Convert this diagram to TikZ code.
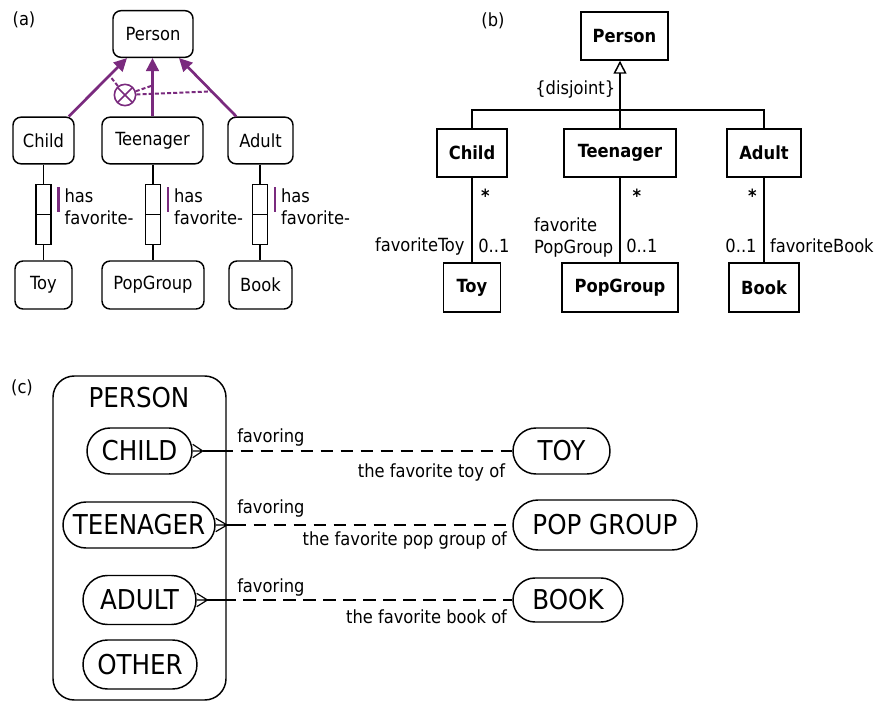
\documentclass[tikz,border=0pt]{standalone}
\usepackage{fontspec}
\setmainfont{DejaVu Sans Condensed}
\usetikzlibrary{arrows.meta,positioning,calc,shapes.misc}
\definecolor{plum}{HTML}{7A2A7E}
\newcommand{\mfont}{\fontsize{13.6}{16.5}\selectfont}
\newcommand{\bfont}{\fontsize{20.5}{24}\selectfont}
\tikzset{
  orm/.style={draw,rounded corners=6pt,line width=1.1pt,minimum height=35pt,inner sep=0pt,font=\mfont},
  role/.style={draw,line width=1.1pt,minimum width=11.25pt,minimum height=22.5pt,inner sep=0pt,outer sep=0pt},
  rbar/.style={plum,line width=1.6pt},
  subarr/.style={-{Triangle[length=9.75pt,width=9.5pt]},line width=2pt,color=plum},
  excl/.style={circle,draw=plum,line width=1.2pt,minimum size=16pt,inner sep=0pt,
    path picture={\draw[plum,line width=1.2pt] (path picture bounding box.north west) -- (path picture bounding box.south east)
      (path picture bounding box.north east) -- (path picture bounding box.south west);}},
  xdash/.style={plum,line width=1.5pt,dash pattern=on 3pt off 1.6pt},
  uml/.style={draw,line width=1.1pt,minimum height=36pt,inner sep=0pt,font=\mfont\bfseries},
  umlline/.style={line width=1.1pt},
  genl/.style={umlline,-{Triangle[open,length=9.75pt,width=9.75pt]}},
  mult/.style={inner sep=0pt,font=\mfont},
  lbl/.style={inner sep=0pt,font=\mfont,align=left},
  ent/.style={rounded rectangle,draw,line width=1.1pt,inner sep=0pt,font=\bfont},
  prong/.style={line width=0.9pt},
  rel/.style={line width=2pt},
  reldash/.style={rel,dash pattern=on 9.5pt off 5.5pt},
}
\begin{document}
\begin{tikzpicture}[x=0.75pt,y=-0.75pt]
\useasboundingbox (0,0) rectangle (874,702);
% (a) ORM schema
\node[lbl] (la) at (24,20) {(a)};
\node[orm,minimum width=60pt] (aperson) at (153,34) {Person};
\node[orm,minimum width=45.75pt] (achild) at (43.5,140.5) {Child};
\node[orm,minimum width=75.75pt] (ateen) at (152.5,140.5) {Teenager};
\node[orm,minimum width=48.75pt] (aadult) at (260.5,140.5) {Adult};
\node[orm,minimum width=42.75pt,minimum height=36pt] (atoy) at (43.5,285) {Toy};
\node[orm,minimum width=76.5pt,minimum height=36pt] (apop) at (153,285) {PopGroup};
\node[orm,minimum width=47.25pt,minimum height=36pt] (abook) at (260.5,285) {Book};
\draw[subarr] ([xshift=-4.5pt]achild.north east) -- coordinate[pos=0.7] (ca) ([xshift=-19.5pt]aperson.south);
\draw[subarr] (ateen.north) -- coordinate[pos=0.53] (ct) (ateen.north |- aperson.south);
\draw[subarr] ([xshift=6.75pt]aadult.north west) -- coordinate[pos=0.43] (cd) ([xshift=19.5pt]aperson.south);
\node[excl] (xor) at (125,95) {};
\draw[xdash] (xor) -- (ca);
\draw[xdash] (xor) -- (ct);
\draw[xdash] (xor) -- (cd);
% fact types
\node[role] (r1a) at (43.5,199.5) {};
\node[role,below=0pt of r1a] (r1b) {};
\node[role] (r2a) at (153,199.5) {};
\node[role,below=0pt of r2a] (r2b) {};
\node[role] (r3a) at (260,199.5) {};
\node[role,below=0pt of r3a] (r3b) {};
\draw[umlline] (achild) -- (r1a); \draw[umlline] (r1b) -- (atoy);
\draw[umlline] (ateen.south -| r2a) -- (r2a); \draw[umlline] (r2b) -- (r2b |- apop.north);
\draw[umlline] (aadult.south -| r3a) -- (r3a); \draw[umlline] (r3b) -- (r3b |- abook.north);
\draw[rbar] ([xshift=5.6pt,yshift=-2pt]r1a.north east) -- ([xshift=5.6pt,yshift=2pt]r1a.south east);
\draw[rbar] ([xshift=5.6pt,yshift=-2pt]r2a.north east) -- ([xshift=5.6pt,yshift=2pt]r2a.south east);
\draw[rbar] ([xshift=5.6pt,yshift=-2pt]r3a.north east) -- ([xshift=5.6pt,yshift=2pt]r3a.south east);
\node[lbl,anchor=west] (h1) at ([xshift=10pt,yshift=-5.6pt]r1a.east) {has\\favorite-};
\node[lbl,anchor=west] (h2) at ([xshift=10pt,yshift=-5.6pt]r2a.east) {has\\favorite-};
\node[lbl,anchor=west] (h3) at ([xshift=10pt,yshift=-5.6pt]r3a.east) {has\\favorite-};
% (b) UML class diagram
\node[lbl] (lb) at (493,21) {(b)};
\node[uml,minimum width=65.25pt] (bperson) at (624.5,36) {Person};
\node[uml,minimum width=52.5pt] (bchild) at (472,153) {Child};
\node[uml,minimum width=84pt] (bteen) at (620,153) {Teenager};
\node[uml,minimum width=55.5pt] (badult) at (764,153) {Adult};
\node[uml,minimum width=42.75pt,minimum height=36.75pt] (btoy) at (472,287.5) {Toy};
\node[uml,minimum width=87pt,minimum height=36.75pt] (bpop) at (620,287.5) {PopGroup};
\node[uml,minimum width=52.5pt,minimum height=36.75pt] (bbook) at (764,287.5) {Book};
\coordinate (bbar) at (620,110);
\draw[umlline] (bchild.north) |- (bbar) -| (badult.north);
\draw[genl] (bteen.north) -- node[mult,pos=0.58,left=3pt] (disj) {\{disjoint\}} (bteen.north |- bperson.south);
\draw[umlline] (bchild) -- node[mult,pos=0.21,right=6.2pt] (m1) {\textbf{*}}
  node[mult,pos=0.81,right=4.2pt] (n1) {0..1}
  node[mult,pos=0.81,left=5pt] (rn1) {favoriteToy} (btoy);
\draw[umlline] (bteen) -- node[mult,pos=0.21,right=9pt] (m2) {\textbf{*}}
  node[mult,pos=0.81,right=4.2pt] (n2) {0..1}
  node[lbl,pos=0.71,left=4.5pt] (rn2) {favorite\\PopGroup} (bpop);
\draw[umlline] (badult) -- node[mult,pos=0.21,left=5pt] (m3) {\textbf{*}}
  node[mult,pos=0.81,left=5pt] (n3) {0..1}
  node[mult,pos=0.81,right=4pt] (rn3) {favoriteBook} (bbook);
% (c) ER diagram
\node[lbl] (lc) at (22,388) {(c)};
\node[draw,line width=1.1pt,rounded corners=16pt,minimum width=129.75pt,minimum height=243pt] (cperson) at (139.5,538) {};
\node[inner sep=0pt,font=\bfont] (cpname) at (139,398) {PERSON};
\node[ent,minimum width=78.75pt,minimum height=34.5pt] (cchild) at (139.5,451) {CHILD};
\node[ent,minimum width=114pt,minimum height=34.5pt] (cteen) at (139,525) {TEENAGER};
\node[ent,minimum width=84.75pt,minimum height=36.75pt] (cadult) at (139.5,600) {ADULT};
\node[ent,minimum width=85.5pt,minimum height=36.75pt] (cother) at (140,664.5) {OTHER};
\node[ent,minimum width=72.75pt,minimum height=34.5pt] (ctoy) at (561.5,451) {TOY};
\node[ent,minimum width=138pt,minimum height=37.5pt] (cpop) at (605,525) {POP GROUP};
\node[ent,minimum width=82.5pt,minimum height=33pt] (cbook) at (568,600) {BOOK};
% child -- toy
\coordinate (cf1) at ([xshift=7.5pt]cchild.east);
\coordinate (s1) at ([xshift=21pt]cchild.east);
\draw[prong] (cf1) -- ([yshift=5pt]cchild.east) (cf1) -- (cchild.east) (cf1) -- ([yshift=-5pt]cchild.east);
\draw[rel] (cf1) -- (s1);
\draw[reldash] (s1) -- (ctoy.west);
\node[lbl,anchor=base west] (fv1) at (237,442) {favoring};
\node[lbl,anchor=base east] (tf1) at ([xshift=-5.25pt,yshift=-20pt]ctoy.west) {the favorite toy of};
% teenager -- pop group
\coordinate (cf2) at ([xshift=8.5pt]cteen.east);
\coordinate (s2) at ([xshift=13.5pt]cteen.east);
\draw[prong] (cf2) -- ([yshift=5pt]cteen.east) (cf2) -- (cteen.east) (cf2) -- ([yshift=-5pt]cteen.east);
\draw[rel] (cf2) -- (s2);
\draw[reldash] (s2) -- (cpop.west);
\node[lbl,anchor=base west] (fv2) at (237,513) {favoring};
\node[lbl,anchor=base east] (tf2) at ([xshift=-3.75pt,yshift=-15pt]cpop.west) {the favorite pop group of};
% adult -- book
\coordinate (cf3) at ([xshift=8pt]cadult.east);
\coordinate (s3) at ([xshift=20pt]cadult.east);
\draw[prong] (cf3) -- ([yshift=5pt]cadult.east) (cf3) -- (cadult.east) (cf3) -- ([yshift=-5pt]cadult.east);
\draw[rel] (cf3) -- (s3);
\draw[reldash] (s3) -- (cbook.west);
\node[lbl,anchor=base west] (fv3) at (237,592.5) {favoring};
\node[lbl,anchor=base east] (tf3) at ([xshift=-3.75pt,yshift=-17.25pt]cbook.west) {the favorite book of};
\end{tikzpicture}
\end{document}
